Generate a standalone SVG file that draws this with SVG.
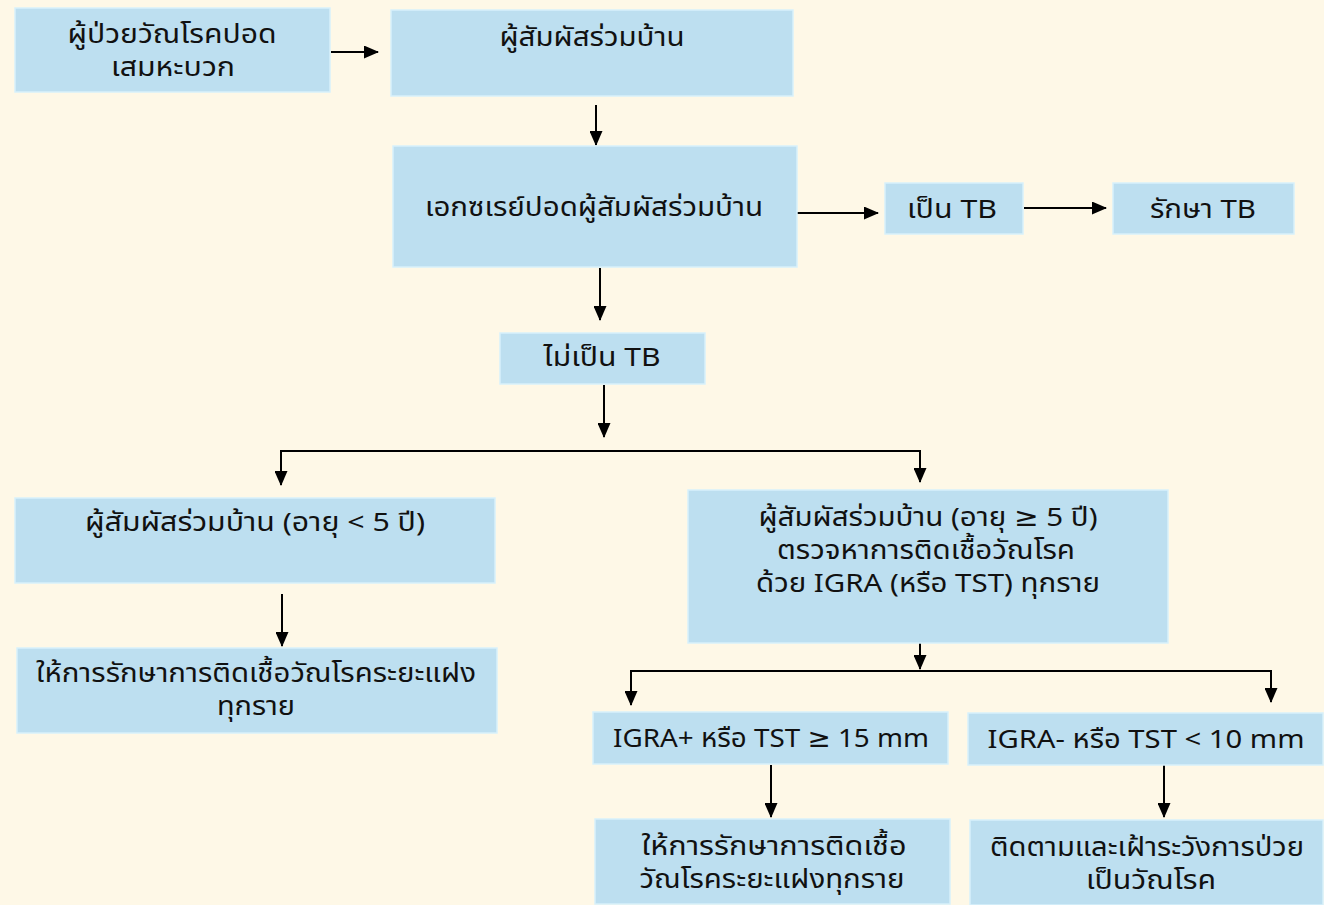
<svg xmlns="http://www.w3.org/2000/svg" width="1324" height="905" viewBox="0 0 1324 905">
<defs>
<marker id="ah" markerWidth="15" markerHeight="13" refX="14" refY="6.5" orient="auto" markerUnits="userSpaceOnUse" viewBox="0 0 15 13">
<path d="M0,0 L15,6.5 L0,13 z" fill="#000"/>
</marker>
<style>
.box{fill:#bddff0;stroke:#d8f1fb;stroke-width:1.5}
.t{font-family:"Noto Sans Thai","Noto Sans","DejaVu Sans",sans-serif;font-size:26px;fill:#111;text-anchor:middle}
.c{fill:none;stroke:#000;stroke-width:2}
.a{fill:none;stroke:#000;stroke-width:2;marker-end:url(#ah)}
</style>
</defs>
<rect width="1324" height="905" fill="#fef8e7"/>
<g id="connectors">
<line class="a" x1="331" y1="52" x2="378" y2="52"/>
<line class="a" x1="596" y1="105" x2="596" y2="145"/>
<line class="a" x1="797" y1="213" x2="878" y2="213"/>
<line class="a" x1="1024" y1="208" x2="1106" y2="208"/>
<line class="a" x1="600" y1="268" x2="600" y2="320"/>
<line class="a" x1="604" y1="385" x2="604" y2="437"/>
<line class="c" x1="280" y1="451" x2="921" y2="451"/>
<line class="a" x1="281" y1="451" x2="281" y2="485"/>
<line class="a" x1="920" y1="451" x2="920" y2="482"/>
<line class="a" x1="282" y1="594" x2="282" y2="646"/>
<line class="a" x1="920" y1="641" x2="920" y2="669"/>
<line class="c" x1="630" y1="671" x2="1272" y2="671"/>
<line class="a" x1="631" y1="671" x2="631" y2="705"/>
<line class="a" x1="1271" y1="671" x2="1271" y2="702"/>
<line class="a" x1="771" y1="765" x2="771" y2="817"/>
<line class="a" x1="1164" y1="765" x2="1164" y2="817"/>
</g>
<g id="n1"><rect class="box" x="15" y="8" width="315" height="84"/><text class="t" x="172" y="43" textLength="209" lengthAdjust="spacingAndGlyphs">ผู้ป่วยวัณโรคปอด</text><text class="t" x="173" y="76" textLength="124" lengthAdjust="spacingAndGlyphs">เสมหะบวก</text></g>
<g id="n2"><rect class="box" x="391" y="10" width="402" height="86"/><text class="t" x="592" y="46" textLength="185" lengthAdjust="spacingAndGlyphs">ผู้สัมผัสร่วมบ้าน</text></g>
<g id="n3"><rect class="box" x="393" y="146" width="404" height="121"/><text class="t" x="594" y="216" textLength="338" lengthAdjust="spacingAndGlyphs">เอกซเรย์ปอดผู้สัมผัสร่วมบ้าน</text></g>
<g id="n4"><rect class="box" x="885" y="183" width="138" height="51"/><text class="t" x="952" y="218" textLength="90" lengthAdjust="spacingAndGlyphs">เป็น TB</text></g>
<g id="n5"><rect class="box" x="1113" y="183" width="181" height="51"/><text class="t" x="1203" y="218" textLength="106" lengthAdjust="spacingAndGlyphs">รักษา TB</text></g>
<g id="n6"><rect class="box" x="500" y="333" width="205" height="51"/><text class="t" x="602" y="366" textLength="117" lengthAdjust="spacingAndGlyphs">ไม่เป็น TB</text></g>
<g id="n7"><rect class="box" x="15" y="498" width="480" height="85"/><text class="t" x="255" y="531" textLength="340" lengthAdjust="spacingAndGlyphs">ผู้สัมผัสร่วมบ้าน (อายุ &lt; 5 ปี)</text></g>
<g id="n8"><rect class="box" x="688" y="490" width="480" height="153"/><text class="t" x="928" y="526" textLength="339" lengthAdjust="spacingAndGlyphs">ผู้สัมผัสร่วมบ้าน (อายุ ≥ 5 ปี)</text><text class="t" x="926" y="559" textLength="298" lengthAdjust="spacingAndGlyphs">ตรวจหาการติดเชื้อวัณโรค</text><text class="t" x="928" y="592" textLength="344" lengthAdjust="spacingAndGlyphs">ด้วย IGRA (หรือ TST) ทุกราย</text></g>
<g id="n9"><rect class="box" x="17" y="648" width="480" height="85"/><text class="t" x="256" y="682" textLength="440" lengthAdjust="spacingAndGlyphs">ให้การรักษาการติดเชื้อวัณโรคระยะแฝง</text><text class="t" x="256" y="715" textLength="78" lengthAdjust="spacingAndGlyphs">ทุกราย</text></g>
<g id="n10"><rect class="box" x="593" y="712" width="355" height="52"/><text class="t" x="771" y="747" textLength="316" lengthAdjust="spacingAndGlyphs">IGRA+ หรือ TST ≥ 15 mm</text></g>
<g id="n11"><rect class="box" x="968" y="713" width="355" height="52"/><text class="t" x="1146" y="748" textLength="317" lengthAdjust="spacingAndGlyphs">IGRA- หรือ TST &lt; 10 mm</text></g>
<g id="n12"><rect class="box" x="595" y="819" width="355" height="85"/><text class="t" x="774" y="855" textLength="265" lengthAdjust="spacingAndGlyphs">ให้การรักษาการติดเชื้อ</text><text class="t" x="772" y="888" textLength="265" lengthAdjust="spacingAndGlyphs">วัณโรคระยะแฝงทุกราย</text></g>
<g id="n13"><rect class="box" x="970" y="820" width="353" height="85"/><text class="t" x="1147" y="856" textLength="314" lengthAdjust="spacingAndGlyphs">ติดตามและเฝ้าระวังการป่วย</text><text class="t" x="1151" y="889" textLength="130" lengthAdjust="spacingAndGlyphs">เป็นวัณโรค</text></g>
</svg>
